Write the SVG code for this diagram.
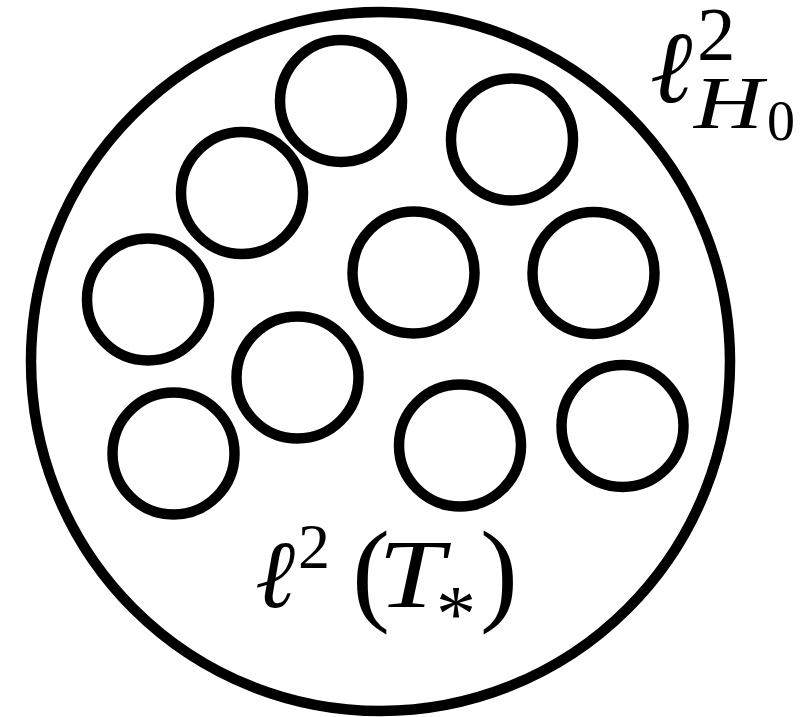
<svg xmlns="http://www.w3.org/2000/svg" width="802" height="717" viewBox="0 0 802 717">
<style>
.ring{fill:none;stroke:#000;stroke-width:10.5}
.outer{fill:none;stroke:#000;stroke-width:10.5}
.t{font-family:"Liberation Serif","DejaVu Serif",serif;fill:#000}
.i{font-style:italic}
</style>
<rect width="802" height="717" fill="#fff"/>
<g id="space">
<circle class="outer" cx="380.5" cy="361.5" r="349.5"/>
</g>
<g id="subsets">
<circle id="c1" class="ring" cx="341" cy="101" r="61"/>
<circle id="c2" class="ring" cx="242" cy="193" r="61"/>
<circle id="c3" class="ring" cx="148" cy="299.5" r="61"/>
<circle id="c4" class="ring" cx="413.5" cy="272.5" r="61"/>
<circle id="c5" class="ring" cx="297.5" cy="377.5" r="61"/>
<circle id="c6" class="ring" cx="512" cy="139.5" r="61"/>
<circle id="c7" class="ring" cx="593.5" cy="273" r="61"/>
<circle id="c8" class="ring" cx="173.5" cy="453.5" r="61"/>
<circle id="c9" class="ring" cx="460" cy="445.5" r="61"/>
<circle id="c10" class="ring" cx="622.5" cy="426" r="61"/>
</g>
<g id="label-outer">
<text class="t i" x="650" y="102" font-size="102">ℓ</text>
<text class="t" x="697" y="60" font-size="77">2</text>
<text class="t i" x="694" y="128" font-size="75" textLength="69" lengthAdjust="spacingAndGlyphs">H</text>
<text class="t" x="767" y="140" font-size="56">0</text>
</g>
<g id="label-inner">
<text class="t i" x="255" y="607" font-size="96">ℓ</text>
<text class="t" x="298" y="568" font-size="64">2</text>
<text class="t" x="352" y="610" font-size="114">(</text>
<text class="t i" x="378" y="607" font-size="97" textLength="66" lengthAdjust="spacingAndGlyphs">T</text>
<text class="t" x="436" y="641" font-size="80">*</text>
<text class="t" x="480" y="610" font-size="114">)</text>
</g>
</svg>
